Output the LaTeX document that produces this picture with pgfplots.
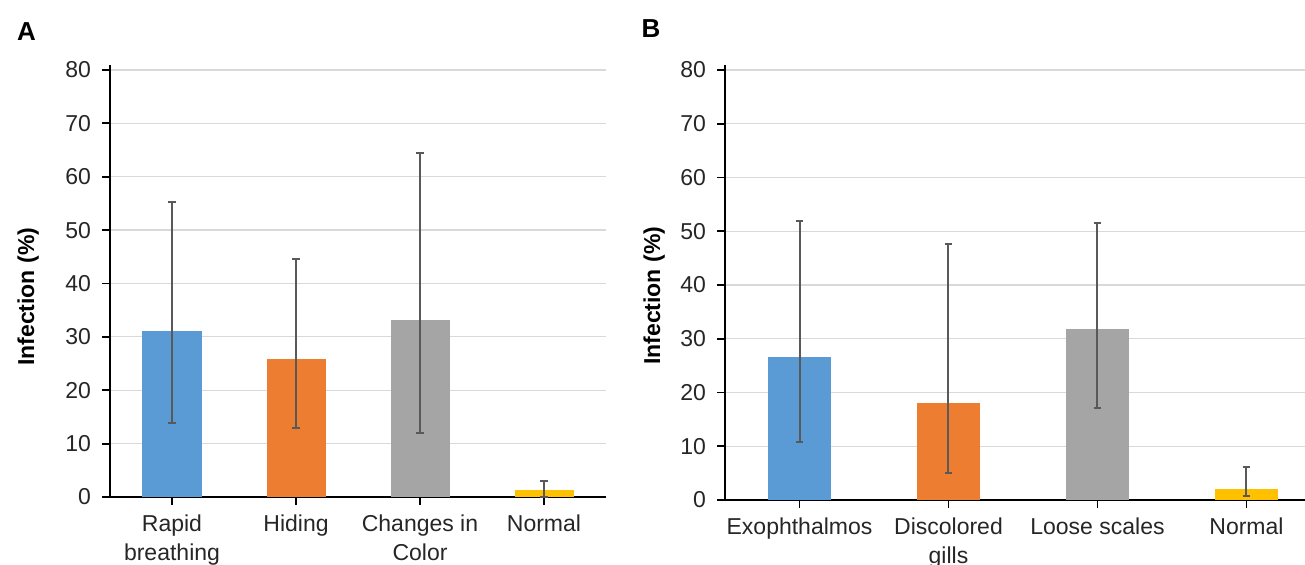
\documentclass[border=0pt]{standalone}
\usepackage{fontspec}
\setmainfont{Liberation Sans}
\usepackage{xcolor}
\usepackage{pgfplots}
\pgfplotsset{compat=1.18}

\definecolor{barBlue}{HTML}{5B9BD5}
\definecolor{barOrange}{HTML}{ED7D31}
\definecolor{barGray}{HTML}{A5A5A5}
\definecolor{barGold}{HTML}{FFC000}
\definecolor{gridGray}{HTML}{D9D9D9}
\definecolor{errGray}{HTML}{595959}
\definecolor{txt}{HTML}{262626}

\pgfplotsset{
	infstyle/.style={
		scale only axis,
		anchor=south west,
		axis x line=bottom,
		axis y line=left,
		axis line style={-,draw=black,line width=0.9pt},
		ymin=0,ymax=81,
		ytick={0,10,...,80},
		xtick={0,1,2,3},
		xmin=-0.5,
		ymajorgrids,
		major grid style={draw=gridGray,line width=0.6pt},
		tick align=outside,
		major tick length=4pt,
		tick style={draw=black,line width=0.9pt},
		/pgf/number format/assume math mode=true,
		yticklabel style={font=\fontsize{11.5}{14}\selectfont,text=txt,xshift=-2pt},
		x tick label style={font=\fontsize{11.5}{14.5}\selectfont,text=txt,align=center,yshift=-1.5pt},
		every axis y label/.style={rotate=90,anchor=center,
			font=\fontsize{11.5}{14}\selectfont\bfseries,text=black},
	},
	infbar/.style={ybar,bar shift=0pt,draw=none,
		error bars/y dir=both,
		error bars/y explicit,
		error bars/error bar style={draw=errGray,line width=1pt},
		error bars/error mark options={draw=errGray,line width=1pt,mark size=1.8pt,rotate=90}},
}

\begin{document}
\begin{tikzpicture}
\path[use as bounding box] (0,0) rectangle (652.5pt,282pt);

% panel A
\begin{axis}[infstyle,
	at={(55pt,33.5pt)},
	width=248pt,height=216.2pt,
	xmax=3.5,
	bar width=29.5pt,
	xticklabels={{Rapid\\breathing},Hiding,{Changes in\\Color},Normal},
	ylabel={Infection (\%)},
	every axis y label/.append style={at={(axis description cs:-0.165,0.463)}},
]
\addplot[fill=barBlue,infbar] coordinates {(0,31.1) += (0,24.2) -= (0,17.2)};
\addplot[fill=barOrange,infbar] coordinates {(1,25.8) += (0,18.8) -= (0,12.9)};
\addplot[fill=barGray,infbar] coordinates {(2,33.1) += (0,31.3) -= (0,21.2)};
\addplot[fill=barGold,infbar] coordinates {(3,1.3) += (0,1.7) -= (0,1.3)};
\end{axis}

% panel B
\begin{axis}[infstyle,
	at={(362.5pt,32pt)},
	width=290pt,height=217.7pt,
	xmax=3.393,
	bar width=31.5pt,
	xticklabels={Exophthalmos,{Discolored\\gills},Loose scales,Normal},
	ylabel={Infection (\%)},
	every axis y label/.append style={at={(axis description cs:-0.122,0.469)}},
]
\addplot[fill=barBlue,infbar] coordinates {(0,26.6) += (0,25.3) -= (0,15.8)};
\addplot[fill=barOrange,infbar] coordinates {(1,18.1) += (0,29.6) -= (0,13.1)};
\addplot[fill=barGray,infbar] coordinates {(2,31.9) += (0,19.6) -= (0,14.8)};
\addplot[fill=barGold,infbar] coordinates {(3,2.0) += (0,4.2) -= (0,1.3)};
\end{axis}

\node[font=\fontsize{13}{15}\selectfont\bfseries] at (13.25pt,266.25pt) {A};
\node[font=\fontsize{13}{15}\selectfont\bfseries] at (325.5pt,267.5pt) {B};
\end{tikzpicture}
\end{document}
